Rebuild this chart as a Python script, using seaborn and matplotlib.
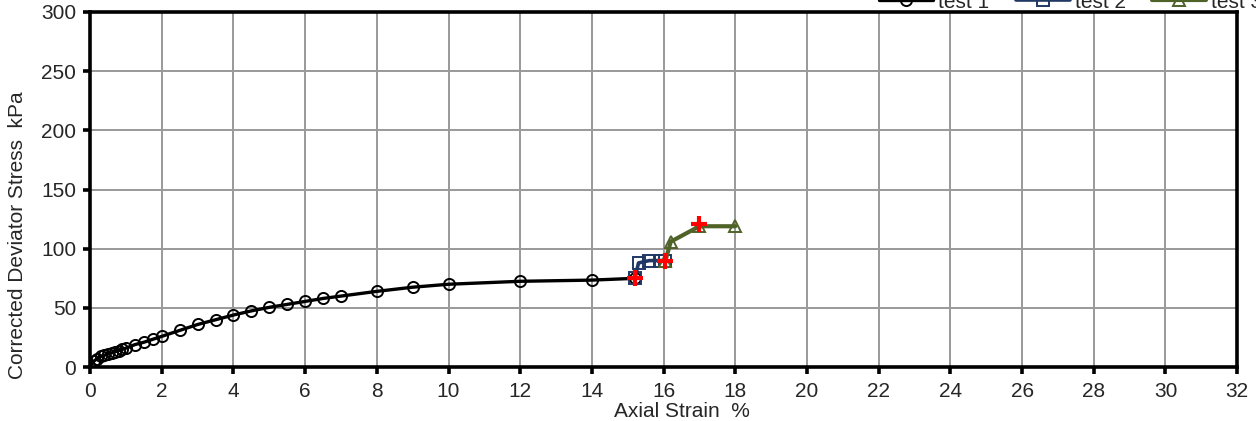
import matplotlib
matplotlib.use("Agg")
import matplotlib.pyplot as plt
from matplotlib.lines import Line2D
import seaborn as sns
import pandas as pd

# --- data ---
t1_strain = [0.0, 0.1, 0.2, 0.3, 0.4, 0.5, 0.6, 0.7, 0.8, 0.9, 1.0, 1.25, 1.5, 1.75, 2.0,
             2.5, 3.0, 3.5, 4.0, 4.5, 5.0, 5.5, 6.0, 6.5, 7.0, 8.0, 9.0, 10.0, 12.0, 14.0, 15.2]
t1_stress = [0, 5, 7, 9, 10, 11, 12, 13, 14, 15, 16, 19, 21, 23.5, 26,
             31, 36, 40, 44, 47.5, 50.5, 53, 55.5, 58, 60, 64, 67.5, 70, 72.5, 73.5, 75]
t2_strain = [15.2, 15.3, 15.6, 15.9, 16.05]
t2_stress = [75, 88, 90, 90, 90]
t3_strain = [16.05, 16.2, 17.0, 18.0]
t3_stress = [90, 106, 119, 119]
fail_strain = [15.2, 16.05, 17.0]
fail_stress = [75, 90, 121]
series_names = ["test 1", "test 2", "test 3"]
x_ticks = list(range(0, 33, 2))
y_ticks = list(range(0, 301, 50))

sns.set_style("white")
plt.rcParams['font.family'] = ['Liberation Sans', 'DejaVu Sans']

fig = plt.figure(figsize=(12.56, 4.21), dpi=100)
ax = fig.add_axes([0.0717, 0.128, 0.9133, 0.8435])

colors = ["black", "#1f3864", "#4f6228"]
markers = ["o", "s", "^"]
lws = [2.4, 2.6, 3.0]
frames = [pd.DataFrame({"x": t1_strain, "y": t1_stress}),
          pd.DataFrame({"x": t2_strain, "y": t2_stress}),
          pd.DataFrame({"x": t3_strain, "y": t3_stress})]

handles = []
for df, c, m, lw, name in zip(frames, colors, markers, lws, series_names):
    sns.lineplot(data=df, x="x", y="y", ax=ax, sort=False, color=c, lw=lw,
                 marker=m, markersize=8, markerfacecolor="none", markeredgecolor=c,
                 markeredgewidth=1.4, legend=False, zorder=3)
    handles.append(Line2D([], [], color=c, lw=lw, marker=m, markersize=8,
                          markerfacecolor="none", markeredgecolor=c,
                          markeredgewidth=1.4, label=name))
ax.plot(fail_strain, fail_stress, linestyle="none", marker="+", markersize=12,
        markeredgewidth=3, color="#ff0000", zorder=4)

ax.set_xlim(0, 32)
ax.set_ylim(0, 300)
ax.set_xticks(x_ticks)
ax.set_yticks(y_ticks)
ax.grid(True, color="#999999", lw=1.4)
ax.set_axisbelow(True)
for s in ax.spines.values():
    s.set_color("black")
    s.set_linewidth(2.6)
ax.tick_params(axis="both", direction="out", length=5, width=2.6, color="black",
               labelsize=15, pad=5)
ax.tick_params(axis="x", pad=6)
ax.tick_params(bottom=True, left=True)

ax.set_xlabel("Axial Strain  %", fontsize=15)
ax.xaxis.set_label_coords(0.516, -0.124)
ax.xaxis.label.set_va("center")
ax.set_ylabel("Corrected Deviator Stress  kPa", fontsize=15)
ax.yaxis.set_label_coords(-0.063, 0.372)
ax.yaxis.label.set_va("center")

leg = ax.legend(handles=handles, loc="center", bbox_to_anchor=(0.855, 1.028), ncol=3,
                frameon=False, fontsize=15, handlelength=2.6, columnspacing=1.25,
                handletextpad=0.25, borderaxespad=0, borderpad=0)

fig.savefig("out.png", dpi=100)
